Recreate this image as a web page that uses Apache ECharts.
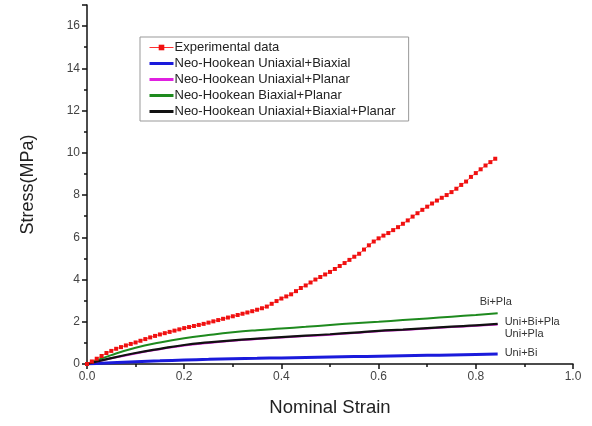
<!DOCTYPE html>
<html>
<head>
<meta charset="utf-8">
<script src="https://cdn.jsdelivr.net/npm/echarts@6/dist/echarts.min.js"></script>
<style>
  html, body { margin: 0; padding: 0; background: #fff; }
  #chart { width: 592px; height: 426px; }
</style>
</head>
<body>
<div id="chart"></div>
<script>
// Experimental stress-strain measurements
const expStrain = [0, 0.01, 0.02, 0.03, 0.04, 0.05, 0.06, 0.07, 0.08, 0.09,
  0.10, 0.11, 0.12, 0.13, 0.14, 0.15, 0.16, 0.17, 0.18, 0.19,
  0.20, 0.21, 0.22, 0.23, 0.24, 0.25, 0.26, 0.27, 0.28, 0.29,
  0.30, 0.31, 0.32, 0.33, 0.34, 0.35, 0.36, 0.37, 0.38, 0.39,
  0.40, 0.41, 0.42, 0.43, 0.44, 0.45, 0.46, 0.47, 0.48, 0.49,
  0.50, 0.51, 0.52, 0.53, 0.54, 0.55, 0.56, 0.57, 0.58, 0.59,
  0.60, 0.61, 0.62, 0.63, 0.64, 0.65, 0.66, 0.67, 0.68, 0.69,
  0.70, 0.71, 0.72, 0.73, 0.74, 0.75, 0.76, 0.77, 0.78, 0.79,
  0.80, 0.81, 0.82, 0.83, 0.84];
const expStress = [0, 0.12, 0.25, 0.38, 0.52, 0.62, 0.72, 0.80, 0.88, 0.95,
  1.02, 1.10, 1.18, 1.26, 1.33, 1.40, 1.46, 1.52, 1.58, 1.64,
  1.70, 1.75, 1.80, 1.85, 1.90, 1.96, 2.02, 2.08, 2.14, 2.20,
  2.26, 2.32, 2.38, 2.44, 2.50, 2.57, 2.64, 2.72, 2.85, 2.98,
  3.10, 3.20, 3.30, 3.45, 3.60, 3.72, 3.86, 4.00, 4.12, 4.24,
  4.36, 4.50, 4.64, 4.78, 4.93, 5.08, 5.22, 5.42, 5.62, 5.80,
  5.95, 6.08, 6.20, 6.34, 6.48, 6.64, 6.80, 6.98, 7.14, 7.30,
  7.45, 7.60, 7.74, 7.87, 8.00, 8.14, 8.30, 8.48, 8.64, 8.86,
  9.04, 9.22, 9.40, 9.56, 9.72];

// Neo-Hookean model curves, sampled on a common strain grid
const modelStrain = [0, 0.05, 0.1, 0.15, 0.2, 0.25, 0.3, 0.35, 0.4, 0.45,
  0.5, 0.55, 0.6, 0.65, 0.7, 0.75, 0.8, 0.845];
const uniBi = [0, 0.06, 0.11, 0.15, 0.19, 0.22, 0.25, 0.27, 0.29, 0.31,
  0.33, 0.35, 0.37, 0.39, 0.41, 0.43, 0.45, 0.47];
const uniPla = [0, 0.27, 0.50, 0.70, 0.88, 1.00, 1.10, 1.18, 1.25, 1.32,
  1.39, 1.47, 1.55, 1.61, 1.68, 1.75, 1.81, 1.87];
const biPla = [0, 0.42, 0.77, 1.02, 1.22, 1.37, 1.50, 1.60, 1.68, 1.76,
  1.85, 1.93, 2.00, 2.08, 2.16, 2.24, 2.32, 2.40];
const uniBiPla = [0, 0.28, 0.52, 0.72, 0.90, 1.02, 1.12, 1.20, 1.27, 1.34,
  1.41, 1.49, 1.57, 1.63, 1.70, 1.77, 1.83, 1.90];

const seriesNames = [
  'Experimental data',
  'Neo-Hookean Uniaxial+Biaxial',
  'Neo-Hookean Uniaxial+Planar',
  'Neo-Hookean Biaxial+Planar',
  'Neo-Hookean Uniaxial+Biaxial+Planar'
];

const pair = (xs, ys) => xs.map((x, i) => [x, ys[i]]);
const FONT = 'Liberation Sans, Arial, sans-serif';

function modelSeries(name, ys, color, width, label, offset) {
  return {
    name: name,
    type: 'line',
    data: pair(modelStrain, ys),
    smooth: true,
    symbol: 'none',
    lineStyle: { color: color, width: width },
    itemStyle: { color: color },
    endLabel: {
      show: true,
      formatter: label,
      offset: offset,
      fontFamily: FONT,
      fontSize: 11,
      color: '#333'
    },
    z: 3
  };
}

// Legend entries: the measured data keeps its square marker, the model
// curves show a plain line sample
const legendData = seriesNames.map((name, i) => i === 0
  ? { name: name, lineStyle: { width: 1, color: '#ff3030' } }
  : { name: name, lineStyle: { width: 3 },
      itemStyle: { color: 'rgba(0,0,0,0)', borderColor: 'rgba(0,0,0,0)', opacity: 0 } });

const chart = echarts.init(document.getElementById('chart'), null, { renderer: 'canvas' });
chart.setOption({
  animation: false,
  backgroundColor: '#fff',
  textStyle: { fontFamily: FONT },
  grid: { left: 87, right: 19, top: 5, bottom: 62 },
  legend: {
    orient: 'vertical',
    left: 140,
    top: 37,
    padding: [4, 13, 3, 8],
    itemWidth: 24,
    itemHeight: 7,
    itemGap: 3,
    borderColor: '#999',
    borderWidth: 1,
    textStyle: { fontFamily: FONT, fontSize: 13, color: '#222', padding: [0, 0, 0, -4] },
    data: legendData
  },
  xAxis: {
    type: 'value',
    min: 0,
    max: 1.0,
    interval: 0.2,
    name: 'Nominal Strain',
    nameLocation: 'middle',
    nameGap: 34,
    nameTextStyle: { fontFamily: FONT, fontSize: 18.5, color: '#222' },
    axisLine: { show: true, lineStyle: { color: '#111', width: 1.5 } },
    axisTick: { show: true, length: 5, lineStyle: { color: '#111', width: 1.5 } },
    minorTick: { show: true, splitNumber: 2, length: 3, lineStyle: { color: '#111', width: 1.5 } },
    splitLine: { show: false },
    axisLabel: {
      fontFamily: FONT, fontSize: 12, color: '#444', margin: 7,
      formatter: v => v.toFixed(1)
    }
  },
  yAxis: {
    type: 'value',
    min: 0,
    max: 17,
    interval: 2,
    name: 'Stress(MPa)',
    nameLocation: 'middle',
    nameGap: 50,
    nameTextStyle: { fontFamily: FONT, fontSize: 18, color: '#222' },
    axisLine: { show: true, lineStyle: { color: '#111', width: 1.5 } },
    axisTick: { show: true, length: 5, lineStyle: { color: '#111', width: 1.5 } },
    minorTick: { show: true, splitNumber: 2, length: 3, lineStyle: { color: '#111', width: 1.5 } },
    splitLine: { show: false },
    axisLabel: {
      fontFamily: FONT, fontSize: 12, color: '#444', margin: 7,
      showMaxLabel: false
    }
  },
  series: [
    {
      name: seriesNames[0],
      type: 'line',
      data: pair(expStrain, expStress),
      symbol: 'rect',
      symbolSize: 4,
      showAllSymbol: true,
      lineStyle: { color: '#ff3030', width: 0.8 },
      itemStyle: { color: '#f01010' },
      z: 4
    },
    modelSeries(seriesNames[1], uniBi, '#1a1adb', 3, 'Uni+Bi', [-1, -1]),
    modelSeries(seriesNames[2], uniPla, '#e020e0', 2, 'Uni+Pla', [-1, 9]),
    modelSeries(seriesNames[3], biPla, '#1e8a1e', 2, 'Bi+Pla', [-26, -11]),
    modelSeries(seriesNames[4], uniBiPla, '#111111', 2.2, 'Uni+Bi+Pla', [-1, -2])
  ]
});
</script>
</body>
</html>
